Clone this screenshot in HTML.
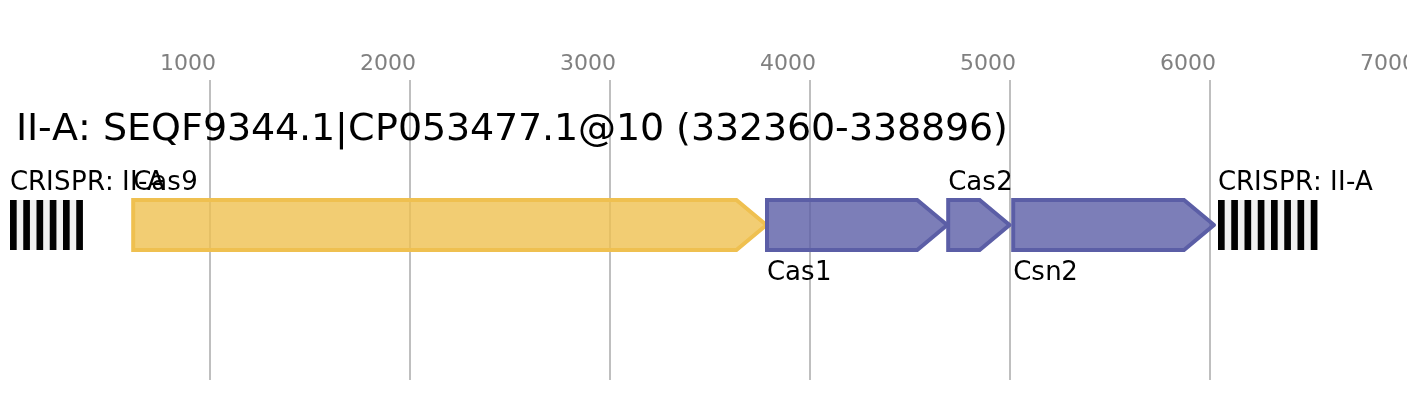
<!DOCTYPE html>
<html>
<head>
<meta charset="utf-8">
<title>II-A: SEQF9344.1|CP053477.1@10 (332360-338896)</title>
<style>
html,body{margin:0;padding:0;background:#fff;overflow:hidden;}
svg{display:block;}
text{font-family:"DejaVu Sans","Liberation Sans",sans-serif;white-space:pre;}
.txt{will-change:transform;}
.tick{font-size:22px;fill:#808080;}
.lbl{font-size:26px;fill:#000;}
.title{font-size:38px;fill:#000;}
.grid line{stroke:#bfbfbf;stroke-width:2;}
.gene{fill-opacity:0.8;stroke-width:4;stroke-linejoin:miter;stroke-linecap:round;}
.y{fill:#efc050;stroke:#efc050;}
.p{fill:#5b5ea6;stroke:#5b5ea6;}
</style>
</head>
<body>
<svg width="1407" height="400" viewBox="0 0 1407 400">
<rect x="0" y="0" width="1407" height="400" fill="#ffffff"/>
<g class="txt">
<text class="tick" x="160 174 188 202" y="70.00">1000</text>
<text class="tick" x="360 374 388 402" y="70.00">2000</text>
<text class="tick" x="560 574 588 602" y="70.00">3000</text>
<text class="tick" x="760 774 788 802" y="70.00">4000</text>
<text class="tick" x="960 974 988 1002" y="70.00">5000</text>
<text class="tick" x="1160 1174 1188 1202" y="70.00">6000</text>
<text class="tick" x="1360 1374 1388 1402" y="70.00">7000</text>
</g>
<g class="grid">
<line x1="210" y1="80" x2="210" y2="380"/>
<line x1="410" y1="80" x2="410" y2="380"/>
<line x1="610" y1="80" x2="610" y2="380"/>
<line x1="810" y1="80" x2="810" y2="380"/>
<line x1="1010" y1="80" x2="1010" y2="380"/>
<line x1="1210" y1="80" x2="1210" y2="380"/>
</g>
<g class="txt">
<text class="title" x="16 27 38 52 78 91 103 127 151 181 203 227 251 275 299 311 335 348 375 398 422 446 470 494 518 542 554 578 616 640 664 676 691 715 739 763 787 811 835 849 873 897 921 945 969 993" y="140.00">II-A: SEQF9344.1|CP053477.1@10 (332360-338896)</text>
</g>
<g class="crispr">
<rect x="10" y="200" width="72.917" height="50" fill="#f0f0f0"/>
<rect x="10.000" y="200" width="6.6667" height="50" fill="#000000"/>
<rect x="23.250" y="200" width="6.6667" height="50" fill="#000000"/>
<rect x="36.500" y="200" width="6.6667" height="50" fill="#000000"/>
<rect x="49.750" y="200" width="6.6667" height="50" fill="#000000"/>
<rect x="63.000" y="200" width="6.6667" height="50" fill="#000000"/>
<rect x="76.250" y="200" width="6.6667" height="50" fill="#000000"/>
</g>
<g class="txt"><text class="lbl" x="10 28 46 54 71 87 105 114 122 130 138 147" y="190.00">CRISPR: II-A</text></g>
<path class="gene y" d="M766.4,225 L736.4,250 L133.2,250 L133.2,200 L736.4,200 L766.4,225"/>
<g class="txt"><text class="lbl" x="133.2 151.2 167.2 181.2" y="190.00">Cas9</text></g>
<path class="gene p" d="M947.2,225 L917.2,250 L767,250 L767,200 L917.2,200 L947.2,225"/>
<g class="txt"><text class="lbl" x="767 785 801 815" y="280.00">Cas1</text></g>
<path class="gene p" d="M1009.6,225 L979.6,250 L948.2,250 L948.2,200 L979.6,200 L1009.6,225"/>
<g class="txt"><text class="lbl" x="948.2 966.2 982.2 996.2" y="190.00">Cas2</text></g>
<path class="gene p" d="M1214,225 L1184,250 L1013.2,250 L1013.2,200 L1184,200 L1214,225"/>
<g class="txt"><text class="lbl" x="1013.2 1031.2 1045.2 1061.2" y="280.00">Csn2</text></g>
<g class="crispr">
<rect x="1218" y="200" width="99.417" height="50" fill="#f0f0f0"/>
<rect x="1218.000" y="200" width="6.6667" height="50" fill="#000000"/>
<rect x="1231.250" y="200" width="6.6667" height="50" fill="#000000"/>
<rect x="1244.500" y="200" width="6.6667" height="50" fill="#000000"/>
<rect x="1257.750" y="200" width="6.6667" height="50" fill="#000000"/>
<rect x="1271.000" y="200" width="6.6667" height="50" fill="#000000"/>
<rect x="1284.250" y="200" width="6.6667" height="50" fill="#000000"/>
<rect x="1297.500" y="200" width="6.6667" height="50" fill="#000000"/>
<rect x="1310.750" y="200" width="6.6667" height="50" fill="#000000"/>
</g>
<g class="txt"><text class="lbl" x="1218 1236 1254 1262 1279 1295 1313 1322 1330 1338 1346 1355" y="190.00">CRISPR: II-A</text></g>
</svg>
</body>
</html>
